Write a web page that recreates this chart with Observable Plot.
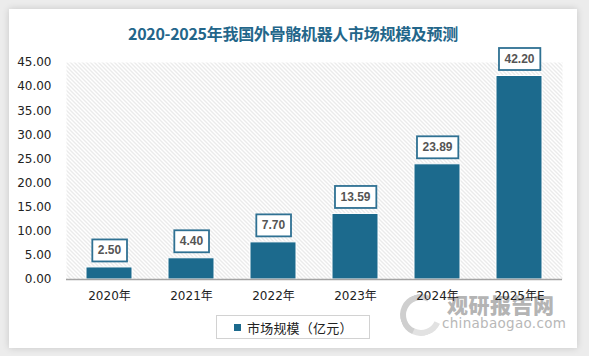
<!DOCTYPE html>
<html><head><meta charset="utf-8">
<script src="https://cdn.jsdelivr.net/npm/d3@7"></script>
<script src="https://cdn.jsdelivr.net/npm/@observablehq/plot@0.6"></script>
<style>
html,body{margin:0;padding:0;}
body{width:589px;height:356px;background:#ececec;position:relative;overflow:hidden;font-family:"DejaVu Sans","Noto Sans CJK SC",sans-serif;}
#card{position:absolute;left:9px;top:9px;width:568px;height:339px;background:#fff;box-shadow:0 0 7px rgba(0,0,0,0.16);}
#title{position:absolute;left:0;top:22px;width:586px;text-align:center;font-family:"Noto Sans CJK SC",sans-serif;font-weight:bold;font-size:16px;line-height:22px;color:#23668a;letter-spacing:-0.3px;}
#wm1{position:absolute;left:447px;top:291px;font-family:"Noto Sans CJK SC",sans-serif;font-weight:900;font-size:21px;line-height:26px;color:#b4b4b4;letter-spacing:0.5px;}
#wm2{position:absolute;left:442px;top:314px;font-family:"DejaVu Sans",sans-serif;font-size:13.5px;line-height:18px;color:#b8b8b8;letter-spacing:0.3px;}
#wmlogo{position:absolute;left:400px;top:294px;width:30px;height:30px;border:6px solid #cfcfcf;border-radius:50%;border-right-color:transparent;border-bottom-color:#e2e2e2;transform:rotate(-20deg);}
#wrap{position:absolute;left:0;top:0;}
#legend{position:absolute;left:216px;top:315px;width:154px;height:24px;border:1px solid #d2d2d2;box-sizing:border-box;background:#fff;}
#legend .sw{position:absolute;left:17px;top:8px;width:7px;height:7px;}
#legend .lt{position:absolute;left:30px;top:0;line-height:23px;font-family:"Noto Sans CJK SC",sans-serif;font-size:13px;color:#222;letter-spacing:0.2px;}
</style></head>
<body>
<div id="card"></div>
<div id="title"></div>
<div id="wmlogo"></div>
<div id="wm1">观研报告网</div>
<div id="wm2">chinabaogao.com</div>
<div id="wrap"></div>
<div id="legend"><div class="sw"></div><div class="lt"></div></div>
<script>
const titleText = "2020-2025年我国外骨骼机器人市场规模及预测";
const seriesName = "市场规模（亿元）";
const years = ["2020年", "2021年", "2022年", "2023年", "2024年", "2025年E"];
const values = [2.50, 4.40, 7.70, 13.59, 23.89, 42.20];
const yTicks = [0, 5, 10, 15, 20, 25, 30, 35, 40, 45];
const barColor = "#1c6a8d";

document.getElementById("title").textContent = titleText;
document.querySelector("#legend .lt").textContent = seriesName;
document.querySelector("#legend .sw").style.background = barColor;

const data = years.map((year, i) => ({year, value: values[i]}));
const fmt = d3.format(".2f");

const chart = Plot.plot({
  width: 589, height: 356,
  marginTop: 62, marginBottom: 77, marginLeft: 66, marginRight: 27,
  style: {fontFamily: "'DejaVu Sans','Noto Sans CJK SC',sans-serif", fontSize: "12px", color: "#222", background: "transparent", overflow: "visible"},
  x: {domain: years, paddingInner: 0.44, paddingOuter: 0.22, label: null, tickSize: 0, tickPadding: 12},
  y: {domain: [0, 45], ticks: yTicks, tickFormat: fmt, tickSize: 0, tickPadding: 15, label: null},
  marks: [
    Plot.frame({fill: "#fff", stroke: "none", className: "hatch"}),
    Plot.barY(data, {x: "year", y: "value", fill: barColor, stroke: "#fff", strokeWidth: 1}),
    Plot.ruleY([0], {stroke: "#a3a3a3", strokeWidth: 1.3}),
    Plot.text(data, {x: "year", y: "value", text: d => fmt(d.value), dy: -17, fill: "#555", fontWeight: "bold", fontSize: 12, fontFamily: "'Liberation Sans',Arial,sans-serif", className: "vlabel"})
  ]
});
document.getElementById("wrap").append(chart);

const svg = chart.tagName.toLowerCase() === "svg" ? chart : chart.querySelector("svg");
const ns = "http://www.w3.org/2000/svg";
const defs = document.createElementNS(ns, "defs");
defs.innerHTML = '<pattern id="hatch" width="4" height="4" patternUnits="userSpaceOnUse"><path d="M-1,-1L5,5M-1,3L1,5M3,-1L5,1" stroke="#d6d6d6" stroke-width="1"/></pattern>';
svg.insertBefore(defs, svg.firstChild);
svg.querySelectorAll(".hatch").forEach(el => {
  const rects = el.tagName.toLowerCase() === "rect" ? [el] : el.querySelectorAll("rect");
  rects.forEach(r => r.setAttribute("fill", "url(#hatch)"));
});
svg.querySelectorAll(".vlabel text").forEach(t => {
  const b = t.getBBox();
  const tr = t.getAttribute("transform");
  let cy = tr ? 0 : (b.y + b.height / 2);
  const padX = 5.5, h = 22;
  const r = document.createElementNS(ns, "rect");
  r.setAttribute("x", b.x - padX);
  r.setAttribute("y", cy - h / 2);
  r.setAttribute("width", b.width + 2 * padX);
  r.setAttribute("height", h);
  r.setAttribute("fill", "#fff");
  r.setAttribute("stroke", "#2f7193");
  r.setAttribute("stroke-width", 1.8);
  if (tr) r.setAttribute("transform", tr);
  t.parentNode.insertBefore(r, t);
});
</script>
</body></html>
